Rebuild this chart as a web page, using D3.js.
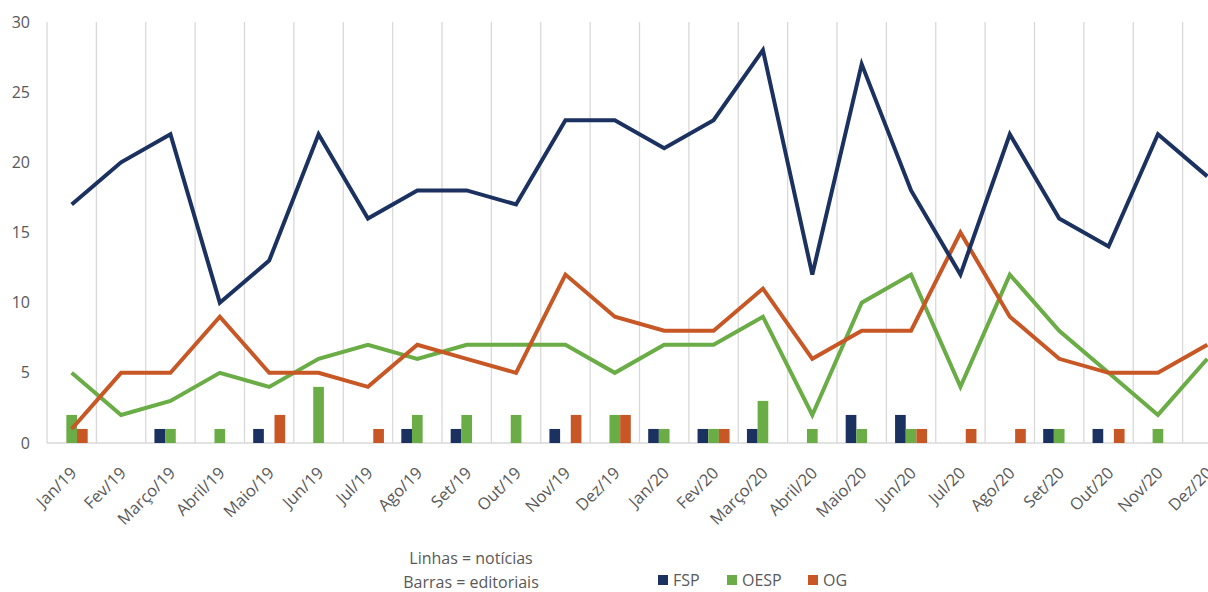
<!DOCTYPE html>
<html>
<head>
<meta charset="utf-8">
<script src="https://cdn.jsdelivr.net/npm/d3@7"></script>
<style>
  body { margin: 0; background: #fff; }
  svg { display: block; font-family: "Open Sans", sans-serif; }
</style>
</head>
<body>
<svg id="chart" width="1208" height="592"></svg>
<script>
const months = ['Jan/19', 'Fev/19', 'Março/19', 'Abril/19', 'Maio/19', 'Jun/19', 'Jul/19', 'Ago/19', 'Set/19', 'Out/19', 'Nov/19', 'Dez/19',
  'Jan/20', 'Fev/20', 'Março/20', 'Abril/20', 'Maio/20', 'Jun/20', 'Jul/20', 'Ago/20', 'Set/20', 'Out/20', 'Nov/20', 'Dez/20']
const series = ['FSP', 'OESP', 'OG']
const yTicks = [0, 5, 10, 15, 20, 25, 30]

// lines = notícias
const newsFSP = [17, 20, 22, 10, 13, 22, 16, 18, 18, 17, 23, 23, 21, 23, 28, 12, 27, 18, 12, 22, 16, 14, 22, 19]
const newsOESP = [5, 2, 3, 5, 4, 6, 7, 6, 7, 7, 7, 5, 7, 7, 9, 2, 10, 12, 4, 12, 8, 5, 2, 6]
const newsOG = [1, 5, 5, 9, 5, 5, 4, 7, 6, 5, 12, 9, 8, 8, 11, 6, 8, 8, 15, 9, 6, 5, 5, 7]

// bars = editoriais
const edFSP = [0, 0, 1, 0, 1, 0, 0, 1, 1, 0, 1, 0, 1, 1, 1, 0, 2, 2, 0, 0, 1, 1, 0, 0]
const edOESP = [2, 0, 1, 1, 0, 4, 0, 2, 2, 2, 0, 2, 1, 1, 3, 1, 1, 1, 0, 0, 1, 0, 1, 0]
const edOG = [1, 0, 0, 0, 2, 0, 1, 0, 0, 0, 2, 2, 0, 1, 0, 0, 0, 1, 1, 1, 0, 1, 0, 0]

const colors = { FSP: '#1b3160', OESP: '#6aac45', OG: '#c85726' }

const svg = d3.select('#chart')
const margin = { top: 22, left: 47 }
const plotW = 1185
const plotH = 421

const x = d3.scaleBand().domain(months).range([0, plotW])
const xInner = d3.scaleBand().domain(series).range([0, 32])
const y = d3.scaleLinear().domain([0, 30]).range([plotH, 0])

const g = svg.append('g').attr('transform', `translate(${margin.left}, ${margin.top})`)

// vertical gridlines
g.selectAll('line.grid')
    .data(months)
  .enter().append('line')
    .attr('class', 'grid')
    .attr('x1', d => x(d) + x.bandwidth())
    .attr('x2', d => x(d) + x.bandwidth())
    .attr('y1', 0)
    .attr('y2', plotH)
    .attr('stroke', '#d9d9d9')
    .attr('stroke-width', 1.3)

g.append('line')
  .attr('x1', 0).attr('x2', 0).attr('y1', 0).attr('y2', plotH)
  .attr('stroke', '#d9d9d9').attr('stroke-width', 1.3)

g.append('line')
  .attr('x1', 0).attr('x2', plotW).attr('y1', plotH).attr('y2', plotH)
  .attr('stroke', '#d9d9d9').attr('stroke-width', 1.5)

// y labels
g.selectAll('text.ylab')
    .data(yTicks)
  .enter().append('text')
    .attr('class', 'ylab')
    .attr('x', -17)
    .attr('y', d => y(d))
    .attr('dy', '0.35em')
    .attr('text-anchor', 'end')
    .attr('fill', '#595959')
    .style('font-size', '16px')
    .text(d => d)

// x labels
g.selectAll('text.xlab')
    .data(months)
  .enter().append('text')
    .attr('class', 'xlab')
    .attr('text-anchor', 'end')
    .attr('fill', '#595959')
    .style('font-size', '16.5px')
    .attr('transform', d => `translate(${x(d) + x.bandwidth() / 2 + 6}, ${plotH + 31}) rotate(-45)`)
    .text(d => d)

// bars
const barData = { FSP: edFSP, OESP: edOESP, OG: edOG }
series.forEach(s => {
  g.selectAll(`rect.bar-${s}`)
      .data(barData[s].map((v, i) => ({ m: months[i], v })).filter(d => d.v > 0))
    .enter().append('rect')
      .attr('x', d => x(d.m) + x.bandwidth() / 2 - 16 + xInner(s))
      .attr('width', xInner.bandwidth())
      .attr('y', d => y(d.v))
      .attr('height', d => plotH - y(d.v))
      .attr('fill', colors[s])
})

// lines
const line = d3.line()
  .x((d, i) => x(months[i]) + x.bandwidth() / 2)
  .y(d => y(d))

const lineData = [['OESP', newsOESP], ['OG', newsOG], ['FSP', newsFSP]]
lineData.forEach(([s, vals]) => {
  g.append('path')
    .datum(vals)
    .attr('d', line)
    .attr('fill', 'none')
    .attr('stroke', colors[s])
    .attr('stroke-width', 4)
    .attr('stroke-linejoin', 'miter')
})

// notes
svg.append('text')
  .attr('x', 471).attr('y', 564)
  .attr('text-anchor', 'middle').attr('fill', '#595959')
  .style('font-size', '16px')
  .text('Linhas = notícias')
svg.append('text')
  .attr('x', 471).attr('y', 588)
  .attr('text-anchor', 'middle').attr('fill', '#595959')
  .style('font-size', '16px')
  .text('Barras = editoriais')

// legend
const legendX = [658, 727, 808]
const legend = svg.selectAll('g.legend')
    .data(series)
  .enter().append('g')
    .attr('class', 'legend')
    .attr('transform', (d, i) => `translate(${legendX[i]}, 575)`)

legend.append('rect')
  .attr('width', 10).attr('height', 10)
  .attr('fill', d => colors[d])
legend.append('text')
  .attr('x', 15).attr('y', 5)
  .attr('dy', '0.35em')
  .attr('fill', '#595959')
  .style('font-size', '16px')
  .text(d => d)
</script>
</body>
</html>
